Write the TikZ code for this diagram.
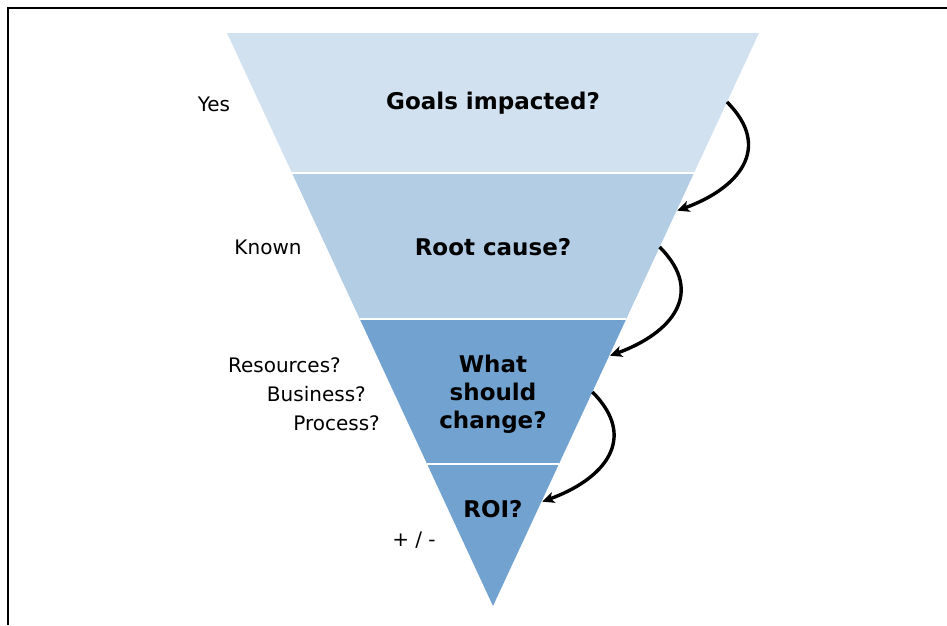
\documentclass[tikz,border=0pt]{standalone}
\usepackage{fontspec}
\setmainfont{DejaVu Sans}
\usetikzlibrary{
  arrows.meta,
  calc
}
\definecolor{bandA}{HTML}{D2E1F0}
\definecolor{bandB}{HTML}{B3CDE5}
\definecolor{bandC}{HTML}{72A3D0}

\begin{document}
\begin{tikzpicture}[
      x=1pt, y=-1pt,
      >={Stealth[length=12pt, width=11pt, inset=3pt]},
      gap/.style={draw=white, line width=2pt},
      question/.style={font=\fontsize{23}{28}\selectfont\bfseries, align=center, inner sep=0pt},
      note/.style={font=\fontsize{20}{24}\selectfont, inner sep=0pt},
      loop/.style={->, line width=3.4pt, black, shorten >=1pt},
      rahmen/.style={line width=1.5pt, black}
  ]
      \useasboundingbox (0,0) rectangle (947,625);
      \draw[rahmen] (8,625) -- (8,8) -- (947,8);

      % Trichter
      \coordinate (tl) at (227,33);
      \coordinate (tr) at (759,33);
      \coordinate (tip) at (493,606);

      \fill[bandA] (tl) -- (tr) -- ($(tr)!0.2443!(tip)$) -- ($(tl)!0.2443!(tip)$) -- cycle;
      \fill[bandB] ($(tl)!0.2443!(tip)$) -- ($(tr)!0.2443!(tip)$) -- ($(tr)!0.4991!(tip)$) -- ($(tl)!0.4991!(tip)$) -- cycle;
      \fill[bandC] ($(tl)!0.4991!(tip)$) -- ($(tr)!0.4991!(tip)$) -- (tip) -- cycle;

      \draw[gap] ($(tl)!0.2443!(tip)$) -- ($(tr)!0.2443!(tip)$);
      \draw[gap] ($(tl)!0.4991!(tip)$) -- ($(tr)!0.4991!(tip)$);
      \draw[gap] ($(tl)!0.7522!(tip)$) -- ($(tr)!0.7522!(tip)$);

      % Fragen
      \node[question] (goals) at (493,103) {Goals impacted?};
      \node[question] (root) at (493,247) {Root cause?};
      \node[question] (change) at (493,394) {What\\should\\change?};
      \node[question] (roi) at (493,509) {ROI?};

      % Antworten links
      \node[note] (yes) at (214,104) {Yes};
      \node[note] (known) at (268,247) {Known};
      \node[note, anchor=east] (res) at (341,365) {Resources?};
      \node[note, anchor=east] (bus) at (366,394) {Business?};
      \node[note, anchor=east] (proc) at (380,423) {Process?};
      \node[note] (pm) at (414,540) {+ / -};

      % Bogenpfeile
      \coordinate (a1) at ($(tr)!0.1204!(tip)$);
      \coordinate (b1) at ($(tr)!0.3106!(tip)$);
      \coordinate (a2) at ($(tr)!0.3735!(tip)$);
      \coordinate (b2) at ($(tr)!0.5637!(tip)$);
      \coordinate (a3) at ($(tr)!0.6265!(tip)$);
      \coordinate (b3) at ($(tr)!0.8185!(tip)$);

      \draw[loop] (a1) to[out=-45, in=20, looseness=1.4] (b1);
      \draw[loop] (a2) to[out=-45, in=20, looseness=1.4] (b2);
      \draw[loop] (a3) to[out=-45, in=20, looseness=1.4] (b3);

  \end{tikzpicture}
\end{document}
